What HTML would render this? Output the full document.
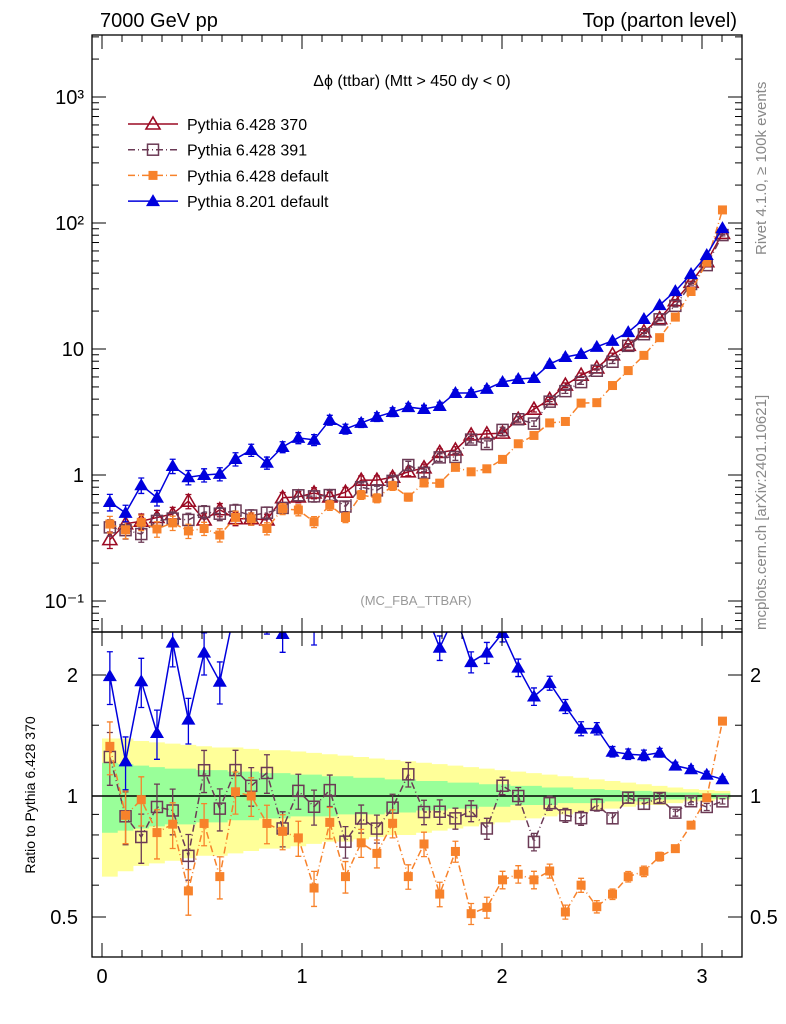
<!DOCTYPE html>
<html><head><meta charset="utf-8">
<style>
body{margin:0;background:#fff;}
svg{display:block;font-family:"Liberation Sans",sans-serif;}
</style></head>
<body>
<svg id="chart" width="786" height="1024" viewBox="0 0 786 1024" xmlns="http://www.w3.org/2000/svg">
<defs>
<clipPath id="clipMain"><rect x="92" y="35" width="650" height="597"/></clipPath>
<clipPath id="clipRatio"><rect x="92" y="632" width="650" height="325"/></clipPath>
</defs>
<rect x="0" y="0" width="786" height="1024" fill="#fff"/>
<text x="100" y="27" font-size="20">7000 GeV pp</text>
<text x="737" y="27" font-size="20" text-anchor="end">Top (parton level)</text>
<text x="412" y="86" font-size="16" text-anchor="middle">Δϕ (ttbar) (Mtt &gt; 450 dy &lt; 0)</text>
<text x="416" y="605" font-size="13" fill="#999" text-anchor="middle">(MC_FBA_TTBAR)</text>
<text transform="translate(766,255) rotate(-90)" font-size="15" fill="#888">Rivet 4.1.0, ≥ 100k events</text>
<text transform="translate(766,630) rotate(-90)" font-size="15" fill="#888">mcplots.cern.ch [arXiv:2401.10621]</text>
<text transform="translate(35,795) rotate(-90)" font-size="14" text-anchor="middle">Ratio to Pythia 6.428 370</text>
<g id="bands" clip-path="url(#clipRatio)"></g>
<g id="ratioMarks" clip-path="url(#clipRatio)"></g>
<g id="mainMarks" clip-path="url(#clipMain)"></g>
<g id="axes"></g>
<g id="legend"></g>
</svg>
<script>
const NS="http://www.w3.org/2000/svg";
const nBins=40;
const xMax=Math.PI;
const valP8=[0.61,0.50,0.83,0.66,1.18,0.96,1.0,1.02,1.34,1.58,1.25,1.67,1.97,1.90,2.73,2.32,2.59,2.89,3.16,3.46,3.34,3.53,4.48,4.48,4.82,5.47,5.78,5.89,7.6,8.64,9.12,10.4,11.6,13.6,17.3,22.3,28.8,39.4,55.7,91];
const val370=[0.307,0.41,0.43,0.46,0.49,0.62,0.44,0.53,0.45,0.45,0.44,0.66,0.67,0.72,0.67,0.73,0.91,0.91,0.96,1.06,1.14,1.51,1.58,2.08,2.12,2.15,2.77,3.33,3.98,5.17,6.2,7.07,9.0,10.7,13.7,17.4,24.2,33.8,49.3,82.7];
const val391=[0.384,0.365,0.34,0.432,0.451,0.44,0.51,0.493,0.522,0.477,0.502,0.548,0.69,0.677,0.693,0.562,0.80,0.755,0.898,1.20,1.04,1.38,1.39,1.91,1.76,2.28,2.77,2.56,3.82,4.63,5.46,6.72,7.92,10.6,13.1,17.2,22.0,32.8,46.3,80.2];
const valDef=[0.408,0.367,0.421,0.373,0.417,0.36,0.376,0.334,0.461,0.45,0.376,0.539,0.527,0.425,0.576,0.46,0.696,0.655,0.821,0.668,0.866,0.861,1.15,1.06,1.12,1.33,1.77,2.06,2.59,2.66,3.72,3.75,5.13,6.74,8.9,12.3,17.9,28.6,48.8,127];
const relErr=[0.15,0.15,0.14,0.14,0.13,0.13,0.12,0.12,0.12,0.11,0.11,0.10,0.10,0.10,0.09,0.09,0.08,0.08,0.08,0.07,0.07,0.07,0.06,0.06,0.06,0.05,0.05,0.05,0.04,0.04,0.04,0.035,0.03,0.03,0.03,0.025,0.02,0.02,0.02,0.015];
const yellowHi=[1.39,1.39,1.37,1.36,1.35,1.34,1.33,1.32,1.32,1.31,1.30,1.30,1.29,1.28,1.27,1.26,1.25,1.24,1.23,1.22,1.21,1.20,1.19,1.18,1.17,1.16,1.15,1.14,1.13,1.12,1.11,1.10,1.09,1.08,1.07,1.06,1.05,1.04,1.035,1.03];
const yellowLo=[0.63,0.65,0.67,0.68,0.69,0.70,0.71,0.71,0.72,0.73,0.74,0.74,0.75,0.76,0.77,0.77,0.78,0.79,0.80,0.80,0.81,0.82,0.83,0.84,0.85,0.86,0.87,0.88,0.89,0.90,0.91,0.92,0.93,0.94,0.95,0.95,0.96,0.97,0.97,0.98];
const greenHi=[1.21,1.20,1.19,1.18,1.17,1.17,1.16,1.16,1.15,1.15,1.14,1.14,1.13,1.13,1.12,1.12,1.11,1.11,1.10,1.10,1.09,1.09,1.08,1.08,1.07,1.07,1.06,1.06,1.05,1.05,1.04,1.04,1.035,1.03,1.03,1.025,1.02,1.02,1.015,1.015];
const greenLo=[0.81,0.82,0.83,0.84,0.85,0.85,0.86,0.86,0.87,0.87,0.88,0.88,0.89,0.89,0.89,0.90,0.90,0.90,0.91,0.91,0.92,0.92,0.93,0.93,0.94,0.94,0.95,0.95,0.95,0.96,0.96,0.96,0.97,0.97,0.97,0.98,0.98,0.98,0.985,0.985];
const xTicks=[0,1,2,3];
const mainTicks=[[0.1,"10\u207B\u00B9"],[1,"1"],[10,"10"],[100,"10\u00B2"],[1000,"10\u00B3"]];
const ratioTicks=[[2,"2"],[1,"1"],[0.5,"0.5"]];

const X=v=>102+200*v;
const Ym=v=>475-126*Math.log10(v);
const Yr=v=>796-121*Math.log2(v);
function el(tag,attrs,parent){const e=document.createElementNS(NS,tag);for(const k in attrs)e.setAttribute(k,attrs[k]);parent.appendChild(e);return e;}
const binW=xMax/nBins;
const cx=i=>X((i+0.5)*binW);

const bands=document.getElementById('bands');
function band(hi,lo,col,name){
  let d="";
  for(let i=0;i<nBins;i++){const x0=X(i*binW),x1=X((i+1)*binW);d+=(i?"L":"M")+x0+","+Yr(hi[i])+"L"+x1+","+Yr(hi[i]);}
  for(let i=nBins-1;i>=0;i--){const x0=X(i*binW),x1=X((i+1)*binW);d+="L"+x1+","+Yr(lo[i])+"L"+x0+","+Yr(lo[i]);}
  const p=el('path',{d:d+"Z",fill:col},bands);
  
  
}
band(yellowHi,yellowLo,'#ffff99','uncertainty-band-total');
band(greenHi,greenLo,'#99ff99','uncertainty-band-stat');

const series=[
 {name:'pythia-6-428-370',label:'Pythia 6.428 370',vals:val370,col:'#9b0a23',dash:'',marker:'otri'},
 {name:'pythia-6-428-391',label:'Pythia 6.428 391',vals:val391,col:'#6b3a55',dash:'7 3 1 3',marker:'osq'},
 {name:'pythia-6-428-default',label:'Pythia 6.428 default',vals:valDef,col:'#f7822b',dash:'7 3 1 3',marker:'fsq'},
 {name:'pythia-8-201-default',label:'Pythia 8.201 default',vals:valP8,col:'#0000dd',dash:'',marker:'ftri'}
];
function marker(g,type,x,y,col){
  let m;
  if(type==='otri') m=el('path',{d:`M${x},${y-7}L${x+7},${y+5}L${x-7},${y+5}Z`,fill:'#fff','fill-opacity':0,stroke:col,'stroke-width':1.6},g);
  else if(type==='ftri') m=el('path',{d:`M${x},${y-7}L${x+7},${y+5}L${x-7},${y+5}Z`,fill:col},g);
  else if(type==='osq') m=el('rect',{x:x-5.5,y:y-5.5,width:11,height:11,fill:'none',stroke:col,'stroke-width':1.5},g);
  else m=el('rect',{x:x-4.5,y:y-4.5,width:9,height:9,fill:col},g);
  return m;
}
function drawSeries(parent,s,yf,vals,ref){
  const g=el('g',{},parent);
  
  
  let d="";
  vals.forEach((v,i)=>{d+=(i?"L":"M")+cx(i)+","+yf(v);});
  el('path',{d:d,fill:'none',stroke:s.col,'stroke-width':1.5,'stroke-dasharray':s.dash},g);
  vals.forEach((v,i)=>{
    const x=cx(i),e=v*relErr[i];
    const y1=yf(v+e),y2=yf(Math.max(v-e,1e-3));
    el('path',{d:`M${x},${y1}L${x},${y2}M${x-3},${y1}L${x+3},${y1}M${x-3},${y2}L${x+3},${y2}`,stroke:s.col,'stroke-width':1.3},g);
    const m=marker(g,s.marker,x,yf(v),s.col);
    
    
  });
}
const mainG=document.getElementById('mainMarks');
series.forEach(s=>drawSeries(mainG,s,Ym,s.vals,false));
const ratioG=document.getElementById('ratioMarks');
el('line',{x1:92,x2:742,y1:Yr(1),y2:Yr(1),stroke:'#000','stroke-width':1.5},ratioG);
series.slice(1).forEach(s=>drawSeries(ratioG,s,Yr,s.vals.map((v,i)=>v/val370[i]),true));

const ax=document.getElementById('axes');
function frame(y0,y1,name){const r=el('rect',{x:92,y:y0,width:650,height:y1-y0,fill:'none',stroke:'#000','stroke-width':1.3},ax);}
frame(35,632,'main-plot-frame');frame(632,957,'ratio-plot-frame');
for(let dec=-2;dec<=3;dec++)for(let k=1;k<10;k++){
  const v=k*Math.pow(10,dec);const y=Ym(v);if(y<36||y>631)continue;
  const L=k===1?14:7;
  el('line',{x1:92,x2:92+L,y1:y,y2:y,stroke:'#000'},ax);
  el('line',{x1:742-L,x2:742,y1:y,y2:y,stroke:'#000'},ax);
}
mainTicks.forEach(([v,l])=>{const t=el('text',{x:84,y:Ym(v)+7,'font-size':20,'text-anchor':'end'},ax);t.textContent=l;});
[0.5,0.6,0.7,0.8,0.9,1,1.5,2].forEach(v=>{const y=Yr(v);const L=(v===0.5||v===1||v===2)?14:7;
  el('line',{x1:92,x2:92+L,y1:y,y2:y,stroke:'#000'},ax);el('line',{x1:742-L,x2:742,y1:y,y2:y,stroke:'#000'},ax);});
ratioTicks.forEach(([v,l])=>{
  const t=el('text',{x:78,y:Yr(v)+7,'font-size':20,'text-anchor':'end'},ax);t.textContent=l;
  const t2=el('text',{x:750,y:Yr(v)+7,'font-size':20},ax);t2.textContent=l;
});
for(let k=0;k<=32;k++){const v=k/10;const x=X(v);if(x<92||x>742)continue;const L=k%10===0?14:7;
  el('line',{x1:x,x2:x,y1:957-L,y2:957,stroke:'#000'},ax);el('line',{x1:x,x2:x,y1:632,y2:632+L,stroke:'#000'},ax);
  el('line',{x1:x,x2:x,y1:35,y2:35+L,stroke:'#000'},ax);el('line',{x1:x,x2:x,y1:632-L,y2:632,stroke:'#000'},ax);}
xTicks.forEach(v=>{const t=el('text',{x:X(v),y:983,'font-size':20,'text-anchor':'middle'},ax);t.textContent=v;});

const lg=document.getElementById('legend');
series.forEach((s,i)=>{
  const y=124+i*25.7;
  const g=el('g',{},lg);
  
  
  el('line',{x1:128,x2:178,y1:y,y2:y,stroke:s.col,'stroke-width':1.5,'stroke-dasharray':s.dash},g);
  marker(g,s.marker,153,y,s.col);
  const t=el('text',{x:187,y:y+6,'font-size':16},g);t.textContent=s.label;
});
</script>
</body></html>
